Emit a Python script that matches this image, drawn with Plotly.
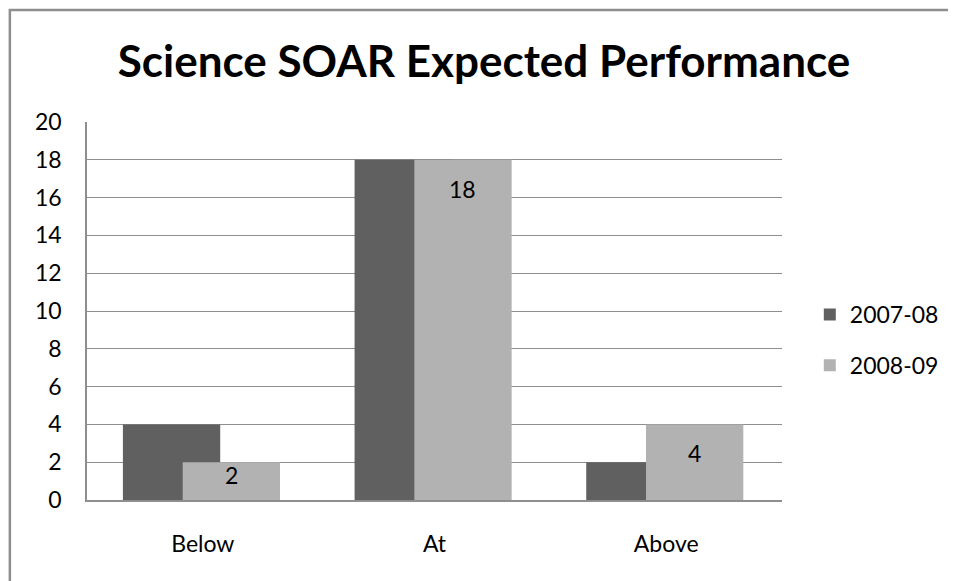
import plotly.graph_objects as go

categories = ["Below", "At", "Above"]
series_names = ["2007-08", "2008-09"]
values_2007 = [4, 18, 2]
values_2008 = [2, 18, 4]
y_ticks = [0, 2, 4, 6, 8, 10, 12, 14, 16, 18, 20]

# page body has an 8px margin, so the figure is laid out 8px smaller
OFF = 8
W, H = 956 - OFF, 581 - OFF
ML, MT = 87 - OFF, 122 - OFF
PW, PH = 700, 378
MR = W - ML - PW
MB = H - MT - PH
y_max = 20
px_per_unit = PH / y_max

FONT = "Lato, 'Open Sans', sans-serif"
FS = 23
DARK = "#606060"
LIGHT = "#b2b2b2"
GRID = "#8e8e8e"

BAR_W = 0.42
OFF_DARK = -0.345
OFF_LIGHT = -0.087

fig = go.Figure()
fig.add_trace(go.Bar(
    x=categories, y=values_2007, name=series_names[0],
    marker=dict(color=DARK, line=dict(width=0)),
    width=BAR_W, offset=OFF_DARK, legendgroup="a",
))
fig.add_trace(go.Bar(
    x=categories, y=values_2008, name=series_names[1],
    marker=dict(color=LIGHT, line=dict(width=0)),
    width=BAR_W, offset=OFF_LIGHT, legendgroup="b",
))

# data labels (inside end) for 2008-09 series
for i, v in enumerate(values_2008):
    shift = min(29, v * px_per_unit - 25)
    fig.add_annotation(
        x=i + OFF_LIGHT + BAR_W / 2, y=v, xref="x", yref="y",
        text=str(v), showarrow=False, yanchor="middle", xanchor="center",
        yshift=-shift, font=dict(family=FONT, size=FS, color="#000000"),
    )

# outer chart border
fig.add_shape(
    type="rect", xref="paper", yref="paper",
    x0=(1.3 - ML) / PW, x1=2.0,
    y0=-2.0, y1=(MT + PH - (10 - OFF)) / PH,
    line=dict(color="#8e8e8e", width=2.5), fillcolor="rgba(0,0,0,0)",
    layer="below",
)

fig.update_layout(
    width=W, height=H,
    margin=dict(l=ML, r=MR, t=MT, b=MB),
    paper_bgcolor="white", plot_bgcolor="white",
    barmode="overlay",
    font=dict(family=FONT, size=FS, color="#000000"),
    title=dict(
        text="<b>Science SOAR Expected Performance</b>",
        x=(484 - OFF) / W, xanchor="center", xref="container",
        y=1 - (62 - OFF) / H, yanchor="middle", yref="container",
        font=dict(family=FONT, size=44, color="#000000"),
    ),
    xaxis=dict(
        type="category", showline=True, linecolor=GRID, linewidth=1.5,
        showgrid=False, ticks="", ticklabelstandoff=23,
        tickfont=dict(family=FONT, size=FS, color="#000000"),
        range=[-0.5, 2.5],
    ),
    yaxis=dict(
        range=[0, y_max], tickvals=y_ticks, showline=True, linecolor=GRID,
        linewidth=1.5, showgrid=True, gridcolor=GRID, gridwidth=1.2,
        zeroline=False, ticks="", ticklabelstandoff=19,
        tickfont=dict(family=FONT, size=FS, color="#000000"),
    ),
    legend=dict(
        x=(815 - OFF - ML) / PW, xanchor="left",
        y=(MT + PH - (340 - OFF)) / PH, yanchor="middle",
        font=dict(family=FONT, size=FS, color="#000000"),
        tracegroupgap=18, bgcolor="rgba(0,0,0,0)",
        itemclick=False,
    ),
    showlegend=True,
)

fig.write_html("out.html")
